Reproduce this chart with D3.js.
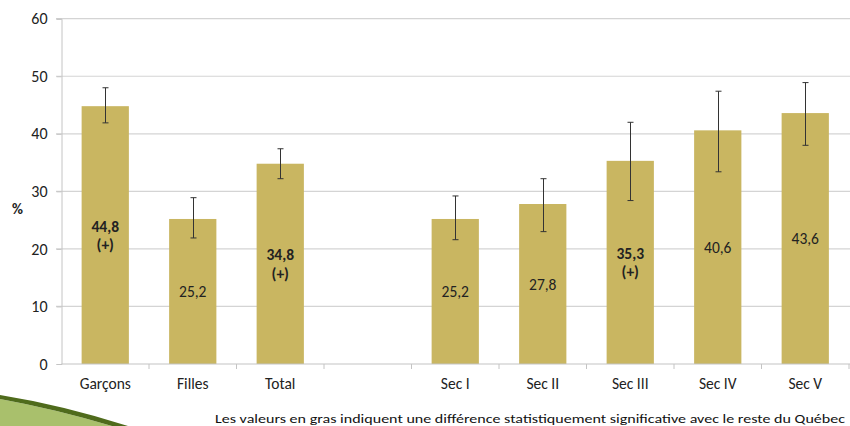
<!DOCTYPE html>
<html>
<head>
<meta charset="utf-8">
<script src="https://d3js.org/d3.v7.min.js"></script>
<style>
  body { margin: 0; background: #fff; }
  svg { display: block; font-family: Carlito, Calibri, Lato, sans-serif; }
</style>
</head>
<body>
<script>
// DATA
var categories = ["Garçons", "Filles", "Total", "", "Sec I", "Sec II", "Sec III", "Sec IV", "Sec V"];
var values =     [44.8, 25.2, 34.8, null, 25.2, 27.8, 35.3, 40.6, 43.6];
var errLow =     [41.9, 21.9, 32.2, null, 21.6, 23.0, 28.4, 33.4, 38.0];
var errHigh =    [48.0, 28.9, 37.4, null, 29.2, 32.2, 42.0, 47.4, 48.9];
var significant = [true, false, true, false, false, false, true, false, false];
var yTicks = [0, 10, 20, 30, 40, 50, 60];
var yLabel = "%";
var footnote = "Les valeurs en gras indiquent une différence statistiquement significative avec le reste du Québec";

var w = 850, h = 426;

var svg = d3.select("body").append("svg")
  .attr("width", w)
  .attr("height", h);

// decorative green wedge bottom-left
svg.append("path")
  .attr("d", "M0,399 Q55,409 112,426 L0,426 Z")
  .attr("fill", "#a9c06c");
svg.append("path")
  .attr("d", "M0,395 Q62,405 128,426 L112,426 Q55,409 0,399 Z")
  .attr("fill", "#4f6b1c");

var x = d3.scaleBand()
  .domain(categories)
  .range([61.5, 849])
  .padding(0);

var y = d3.scaleLinear()
  .domain([0, 60])
  .range([364, 18.7]);

var barW = x.bandwidth() * 0.54;

// grid
svg.append("g")
  .selectAll("line")
  .data(yTicks.filter(function(d) { return d > 0; }))
  .enter().append("line")
  .attr("x1", 56).attr("x2", w)
  .attr("y1", function(d) { return y(d); })
  .attr("y2", function(d) { return y(d); })
  .attr("stroke", "#d4d4d4")
  .attr("stroke-width", 1.2);

// y axis
var yAxis = svg.append("g")
  .attr("transform", "translate(61.5,0)")
  .call(d3.axisLeft(y).tickValues(yTicks).tickSize(5).tickFormat(d3.format("d")));
yAxis.select(".domain").attr("stroke", "#c4c4c4");
yAxis.selectAll(".tick line").attr("stroke", "#c4c4c4");
yAxis.selectAll("text")
  .attr("x", -14)
  .attr("font-size", 16)
  .attr("font-family", "Carlito, Calibri, Lato, sans-serif")
  .attr("fill", "#222");

svg.append("text")
  .attr("x", 12)
  .attr("y", 214)
  .attr("font-size", 15)
  .attr("font-weight", "bold")
  .attr("fill", "#222")
  .text(yLabel);

// bars
var rows = categories.map(function(c, i) {
  return { cat: c, value: values[i], lo: errLow[i], hi: errHigh[i], sig: significant[i] };
}).filter(function(d) { return d.value !== null; });

svg.append("g")
  .selectAll("rect")
  .data(rows)
  .enter().append("rect")
  .attr("x", function(d) { return x(d.cat) + (x.bandwidth() - barW) / 2; })
  .attr("y", function(d) { return y(d.value); })
  .attr("width", barW)
  .attr("height", function(d) { return y(0) - y(d.value); })
  .attr("fill", "#c9b661");

// x axis line + boundary ticks
svg.append("line")
  .attr("x1", 61.5).attr("x2", w)
  .attr("y1", y(0)).attr("y2", y(0))
  .attr("stroke", "#c4c4c4")
  .attr("stroke-width", 1.2);
var bounds = categories.map(function(c) { return x(c); }).concat([x.range()[1]]);
svg.append("g")
  .selectAll("line")
  .data(bounds.slice(1))
  .enter().append("line")
  .attr("x1", function(d) { return d; })
  .attr("x2", function(d) { return d; })
  .attr("y1", y(0)).attr("y2", y(0) + 5)
  .attr("stroke", "#c4c4c4");

svg.append("g")
  .selectAll("text")
  .data(categories)
  .enter().append("text")
  .attr("x", function(d) { return x(d) + x.bandwidth() / 2; })
  .attr("y", 389)
  .attr("text-anchor", "middle")
  .attr("font-size", 15.5)
  .attr("fill", "#222")
  .text(function(d) { return d; });

// error bars
var eb = svg.append("g")
  .attr("stroke", "#333")
  .attr("stroke-width", 1);
rows.forEach(function(d) {
  var cx = Math.round(x(d.cat) + x.bandwidth() / 2) + 0.5;
  eb.append("line").attr("x1", cx).attr("x2", cx).attr("y1", y(d.hi)).attr("y2", y(d.lo));
  eb.append("line").attr("x1", cx - 3).attr("x2", cx + 3).attr("y1", y(d.hi)).attr("y2", y(d.hi));
  eb.append("line").attr("x1", cx - 3).attr("x2", cx + 3).attr("y1", y(d.lo)).attr("y2", y(d.lo));
});

// value labels centered in bars
var fmt = function(v) { return d3.format(".1f")(v).replace(".", ","); };
rows.forEach(function(d) {
  var cx = x(d.cat) + x.bandwidth() / 2;
  var mid = (y(d.value) + y(0)) / 2;
  var t = svg.append("text")
    .attr("text-anchor", "middle")
    .attr("font-size", 15.5)
    .attr("fill", "#222")
    .attr("font-weight", d.sig ? "bold" : "normal");
  if (d.sig) {
    t.append("tspan").attr("x", cx).attr("y", mid - 3.5).text(fmt(d.value));
    t.append("tspan").attr("x", cx).attr("y", mid + 15).text("(+)");
  } else {
    t.append("tspan").attr("x", cx).attr("y", mid + 5.5).text(fmt(d.value));
  }
});

// footnote
svg.append("text")
  .attr("x", 215)
  .attr("y", 423)
  .attr("font-size", 13)
  .attr("fill", "#111")
  .attr("textLength", 630)
  .attr("lengthAdjust", "spacingAndGlyphs")
  .text(footnote);
</script>
</body>
</html>
